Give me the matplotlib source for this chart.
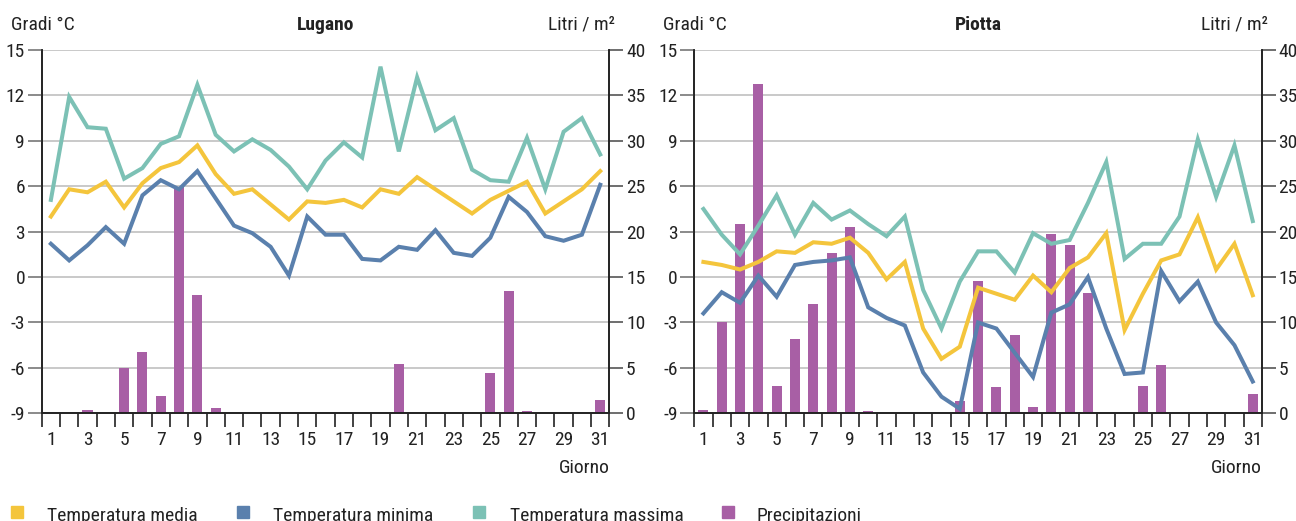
import matplotlib
matplotlib.use("Agg")
import matplotlib.font_manager as fm
import matplotlib.pyplot as plt
import numpy as np
from matplotlib.patches import Rectangle

# cerca un font stretto (l'originale usa un condensed)
FONT = "DejaVu Sans"
STRETCH = "normal"
for pref in ("liberation sans narrow", "roboto condensed", "dejavu sans condensed",
             "open sans condensed", "noto sans condensed"):
    found = [f for f in fm.fontManager.ttflist
             if pref.replace(" ", "") in f.fname.lower().replace("-", "").replace("_", "")
             or pref == (f.name.lower())]
    if found:
        FONT = found[0].name
        STRETCH = found[0].stretch
        break

plt.rcParams["font.family"] = [FONT, "DejaVu Sans"]
plt.rcParams["font.stretch"] = STRETCH
plt.rcParams["axes.unicode_minus"] = False
FS = 14 if STRETCH != "normal" or "Narrow" in FONT else 12

YELLOW = "#f4c53c"
BLUE = "#5a80ad"
TEAL = "#7cc1b5"
PURPLE = "#a85fa5"
GRID = "#c9c9c9"
TXT = "#222222"

days = list(range(1, 32))

lugano_media = [4.0, 5.8, 5.6, 6.3, 4.6, 6.2, 7.2, 7.6, 8.7, 6.8, 5.5, 5.8, 4.8, 3.8, 5.0,
                4.9, 5.1, 4.6, 5.8, 5.5, 6.6, 5.8, 5.0, 4.2, 5.1, 5.7, 6.3, 4.2, 5.0, 5.8, 7.0]
lugano_minima = [2.2, 1.1, 2.1, 3.3, 2.2, 5.4, 6.4, 5.8, 7.0, 5.2, 3.4, 2.9, 2.0, 0.1, 4.0,
                 2.8, 2.8, 1.2, 1.1, 2.0, 1.8, 3.1, 1.6, 1.4, 2.6, 5.3, 4.3, 2.7, 2.4, 2.8, 6.1]
lugano_massima = [5.1, 11.9, 9.9, 9.8, 6.5, 7.2, 8.8, 9.3, 12.7, 9.4, 8.3, 9.1, 8.4, 7.3, 5.8,
                  7.7, 8.9, 7.9, 13.9, 8.3, 13.2, 9.7, 10.5, 7.1, 6.4, 6.3, 9.2, 5.8, 9.6, 10.5, 8.1]
lugano_prec = [0, 0, 0.4, 0, 5.0, 6.7, 1.9, 24.9, 13.0, 0.6, 0, 0, 0, 0, 0,
               0, 0, 0, 0, 5.4, 0, 0, 0, 0, 4.4, 13.5, 0.25, 0, 0, 0, 1.5]

piotta_media = [1.0, 0.8, 0.5, 1.0, 1.7, 1.6, 2.3, 2.2, 2.6, 1.6, -0.15, 1.0, -3.4, -5.4, -4.6,
                -0.7, -1.1, -1.5, 0.1, -1.0, 0.6, 1.3, 2.9, -3.5, -1.1, 1.1, 1.5, 3.95, 0.5, 2.2, -1.2]
piotta_minima = [-2.4, -1.0, -1.7, 0.1, -1.3, 0.8, 1.0, 1.1, 1.3, -2.0, -2.7, -3.2, -6.3, -7.9, -8.7,
                 -3.0, -3.4, -5.0, -6.6, -2.35, -1.8, 0.0, -3.4, -6.4, -6.3, 0.4, -1.6, -0.3, -3.0, -4.5, -6.9]
piotta_massima = [4.5, 2.8, 1.5, 3.4, 5.4, 2.8, 4.9, 3.8, 4.4, 3.5, 2.7, 4.0, -0.85, -3.4, -0.3,
                  1.7, 1.7, 0.3, 2.9, 2.2, 2.45, 4.9, 7.6, 1.2, 2.2, 2.2, 4.0, 9.1, 5.3, 8.7, 3.7]
piotta_prec = [0.4, 10.1, 20.8, 36.3, 3.0, 8.2, 12.0, 17.7, 20.5, 0.2, 0, 0, 0, 0, 1.35,
               14.6, 2.9, 8.6, 0.7, 19.7, 18.5, 13.2, 0, 0, 3.0, 5.3, 0, 0, 0, 0, 2.1]

stations = ["Lugano", "Piotta"]
legend_labels = ["Temperatura media", "Temperatura minima", "Temperatura massima", "Precipitazioni"]

temp_ticks = list(range(-9, 16, 3))
prec_ticks = list(range(0, 41, 5))
day_labels = list(range(1, 32, 2))


def panel(fig, left, name, media, minima, massima, prec):
    ax_p = fig.add_axes([left, 0.2067, 0.438, 0.6973])
    ax_t = ax_p.twinx()
    ax_t.yaxis.tick_left()
    ax_t.yaxis.set_label_position("left")
    ax_p.yaxis.tick_right()
    ax_t.set_zorder(ax_p.get_zorder() + 1)
    ax_t.patch.set_visible(False)

    ax_p.bar(days, prec, width=0.55, color=PURPLE, zorder=2)
    ax_t.plot(days, massima, color=TEAL, lw=2.9, solid_joinstyle="miter")
    ax_t.plot(days, media, color=YELLOW, lw=2.9, solid_joinstyle="miter")
    ax_t.plot(days, minima, color=BLUE, lw=2.9, solid_joinstyle="miter")

    for a in (ax_p, ax_t):
        a.set_xlim(0.5, 31.5)
        a.spines["top"].set_visible(False)
        for s in ("left", "right", "bottom"):
            a.spines[s].set_color("#222222")
            a.spines[s].set_linewidth(1.2)

    ax_p.set_ylim(0, 40)
    ax_p.set_yticks(prec_ticks)
    ax_p.grid(axis="y", color=GRID, lw=1.4, zorder=0)
    ax_p.set_axisbelow(True)
    ax_t.set_ylim(-9, 15)
    ax_t.set_yticks(temp_ticks)

    ax_p.tick_params(axis="y", length=10, width=1.2, color="#555555", pad=2,
                     labelsize=FS, labelcolor=TXT)
    ax_t.tick_params(axis="y", length=10, width=1.2, color="#777777", pad=2,
                     labelsize=FS, labelcolor=TXT)

    ax_p.set_xticks(day_labels)
    ax_p.set_xticks(np.arange(0.5, 32, 1), minor=True)
    ax_p.tick_params(axis="x", which="major", length=0, pad=13, labelsize=FS, labelcolor=TXT)
    ax_p.tick_params(axis="x", which="minor", length=10, width=1.2, color="#222222")
    ax_t.tick_params(axis="x", which="both", bottom=False, labelbottom=False)

    ax_p.text(-0.055, 1.07, "Gradi °C", transform=ax_p.transAxes, ha="left",
              va="center", fontsize=FS, color=TXT)
    ax_p.text(0.5, 1.07, name, transform=ax_p.transAxes, ha="center",
              va="center", fontsize=FS, fontweight="bold", color=TXT)
    ax_p.text(1.01, 1.07, "Litri / m²", transform=ax_p.transAxes, ha="right",
              va="center", fontsize=FS, color=TXT)
    ax_p.text(1.0, -0.15, "Giorno", transform=ax_p.transAxes, ha="right",
              va="center", fontsize=FS, color=TXT)
    return ax_p, ax_t


fig = plt.figure(figsize=(12.96, 5.21), dpi=100)
fig.patch.set_facecolor("white")

panel(fig, 0.0322, stations[0], lugano_media, lugano_minima, lugano_massima, lugano_prec)
panel(fig, 0.5357, stations[1], piotta_media, piotta_minima, piotta_massima, piotta_prec)

# legenda in basso
W, H = 1296, 521
for lab, col, xs, xt in zip(legend_labels, [YELLOW, BLUE, TEAL, PURPLE],
                            [11, 237, 473, 722], [47, 273, 510, 757]):
    fig.patches.append(Rectangle((xs / W, 1 - 518 / H), 12 / W, 12 / H,
                                 transform=fig.transFigure, color=col))
    fig.text(xt / W, 1 - 516 / H, lab, ha="left", va="center", fontsize=FS, color=TXT)

fig.savefig("out.png", dpi=100, facecolor="white")
